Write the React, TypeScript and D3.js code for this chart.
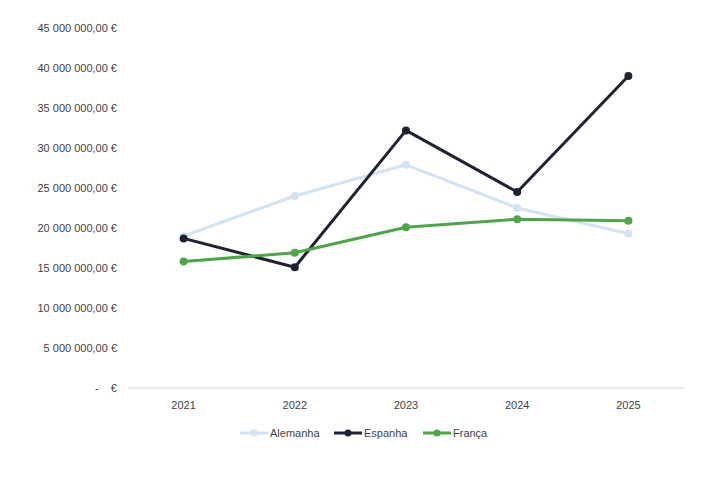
import { useRef, useEffect } from "react";
import * as d3 from "d3";

const FONT = "'Liberation Sans', Arial, sans-serif";

const YEARS = ["2021", "2022", "2023", "2024", "2025"];
const ALEMANHA = [19.0e6, 24.0e6, 27.9e6, 22.5e6, 19.3e6];
const ESPANHA = [18.7e6, 15.1e6, 32.2e6, 24.5e6, 39.0e6];
const FRANCA = [15.8e6, 16.9e6, 20.1e6, 21.1e6, 20.9e6];
const Y_TICKS = [0, 5e6, 10e6, 15e6, 20e6, 25e6, 30e6, 35e6, 40e6, 45e6];

const SERIES = [
  { name: "Alemanha", values: ALEMANHA, color: "#d3e3f3" },
  { name: "Espanha", values: ESPANHA, color: "#1e2233" },
  { name: "França", values: FRANCA, color: "#4ea547" },
];

const W = 707;
const H = 495;

const fmtEuro = (v: number) => {
  if (v === 0) return "-    €";
  const s = Math.round(v).toString().replace(/\B(?=(\d{3})+(?!\d))/g, " ");
  return `${s},00 €`;
};

export default function App() {
  const ref = useRef<SVGSVGElement>(null);

  useEffect(() => {
    if (!ref.current) return;
    const svg = d3.select(ref.current);
    svg.selectAll("*").remove();

    const mg = { t: 28, r: 23, b: 107, l: 128 };

    const x = d3.scaleBand().domain(YEARS).range([mg.l, W - mg.r]);
    const y = d3.scaleLinear().domain([0, 45e6]).range([H - mg.b, mg.t]);
    const cx = (d: string) => (x(d) ?? 0) + x.bandwidth() / 2;

    // baseline
    svg.append("line")
      .attr("x1", mg.l).attr("x2", W - mg.r)
      .attr("y1", y(0)).attr("y2", y(0))
      .attr("stroke", "#d9d9d9").attr("stroke-width", 1);

    // y labels
    svg.append("g").selectAll("text").data(Y_TICKS).join("text")
      .attr("x", 117).attr("y", (d) => y(d))
      .attr("dy", "0.35em")
      .attr("text-anchor", "end")
      .style("white-space", "pre")
      .attr("fill", "#3f3f3f").attr("font-size", "11px").attr("font-family", FONT)
      .text((d) => fmtEuro(d));

    // x labels
    svg.append("g").selectAll("text").data(YEARS).join("text")
      .attr("x", (d) => cx(d)).attr("y", y(0) + 21)
      .attr("text-anchor", "middle")
      .attr("fill", "#3f3f3f").attr("font-size", "11px").attr("font-family", FONT)
      .text((d) => d);

    const line = d3.line<number>()
      .x((_d, i) => cx(YEARS[i]))
      .y((d) => y(d));

    SERIES.forEach((s) => {
      svg.append("path").datum(s.values)
        .attr("d", line)
        .attr("fill", "none").attr("stroke", s.color)
        .attr("stroke-width", 3).attr("stroke-linejoin", "round");
      svg.append("g").selectAll("circle").data(s.values).join("circle")
        .attr("cx", (_d, i) => cx(YEARS[i])).attr("cy", (d) => y(d))
        .attr("r", 4).attr("fill", s.color);
    });

    // legend
    const legendX = [240, 334, 423];
    const ly = 433;
    SERIES.forEach((s, i) => {
      const g = svg.append("g");
      g.append("line")
        .attr("x1", legendX[i]).attr("x2", legendX[i] + 28)
        .attr("y1", ly).attr("y2", ly)
        .attr("stroke", s.color).attr("stroke-width", 3);
      g.append("circle")
        .attr("cx", legendX[i] + 14).attr("cy", ly).attr("r", 3.5).attr("fill", s.color);
      g.append("text")
        .attr("x", legendX[i] + 30).attr("y", ly).attr("dy", "0.35em")
        .attr("fill", "#3f3f3f").attr("font-size", "11px").attr("font-family", FONT)
        .text(s.name);
    });
  }, []);

  return (
    <svg
      ref={ref}
      width={W}
      height={H}
      style={{ position: "absolute", left: 0, top: 0, background: "#fff" }}
    />
  );
}
